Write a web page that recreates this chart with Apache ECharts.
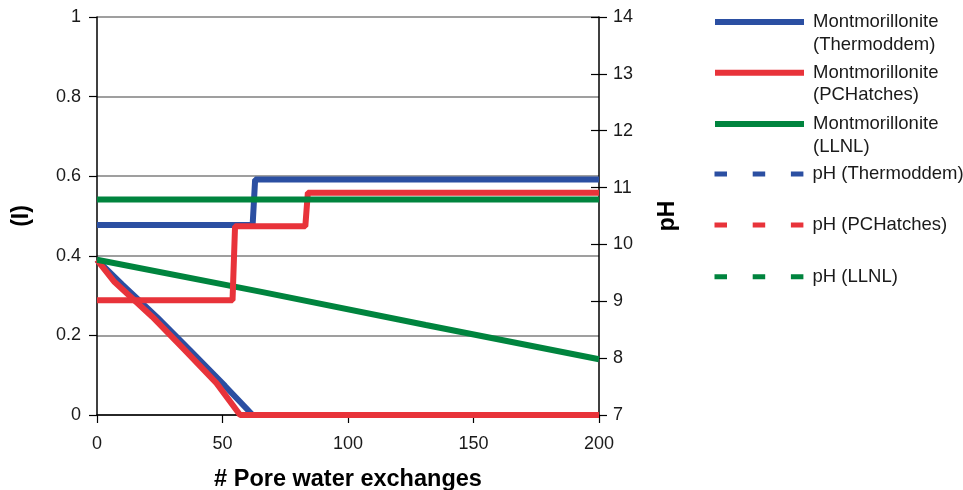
<!DOCTYPE html>
<html>
<head>
<meta charset="utf-8">
<script src="https://cdn.jsdelivr.net/npm/echarts@6/dist/echarts.min.js"></script>
<style>
  html, body { margin: 0; padding: 0; background: #ffffff; }
  #chart { width: 963px; height: 490px; }
</style>
</head>
<body>
<div id="chart"></div>
<script>
// Ionic strength (I) against number of pore water exchanges, [exchanges, I]
const ionicThermoddem = [[0, 0.39], [10, 0.328], [24, 0.245], [37, 0.163], [51, 0.073], [62, 0], [200, 0]];
const ionicPCHatches  = [[0, 0.39], [7, 0.334], [22, 0.247], [35, 0.163], [47.6, 0.08], [57, 0], [200, 0]];
const ionicLLNL       = [[0, 0.39], [65, 0.31], [131, 0.226], [200, 0.14]];

// pH against number of pore water exchanges, [exchanges, pH]
const phThermoddem = [[0, 10.34], [62, 10.34], [63, 11.14], [200, 11.14]];
const phPCHatches  = [[0, 9.02], [54, 9.02], [55, 10.32], [83, 10.32], [84, 10.91], [200, 10.91]];
const phLLNL       = [[0, 10.79], [200, 10.79]];

const seriesNames = [
  'Montmorillonite\n(Thermoddem)',
  'Montmorillonite\n(PCHatches)',
  'Montmorillonite\n(LLNL)',
  'pH (Thermoddem)',
  'pH (PCHatches)',
  'pH (LLNL)'
];

const BLUE = '#2B4FA2';
const RED = '#E8333A';
const GREEN = '#00843E';
const FONT = '"Liberation Sans", Arial, sans-serif';

const chart = echarts.init(document.getElementById('chart'), null, { renderer: 'canvas' });

function lineSeries(name, data, color, yAxisIndex) {
  return {
    name: name,
    type: 'line',
    data: data,
    yAxisIndex: yAxisIndex,
    symbol: 'none',
    clip: false,
    animation: false,
    lineStyle: { color: color, width: 6 },
    itemStyle: { color: color }
  };
}

// One legend per entry so every entry sits on its own row; the sample line
// lines up with the first text line of the two-line entries.
const legendRows = [22, 72.7, 124, 174, 225, 276.7];
const LINE_H = 22.5;
const legends = seriesNames.map(function (name, i) {
  const twoLines = name.indexOf('\n') >= 0;
  const dashed = i >= 3;
  return {
    orient: 'vertical',
    left: 712,
    top: twoLines ? legendRows[i] - 1.5 * LINE_H : legendRows[i] - 0.5 * LINE_H,
    padding: 0,
    itemWidth: 89,
    itemHeight: 14,
    selectedMode: false,
    formatter: twoLines ? '\n{name}' : '{name}',
    textStyle: {
      fontFamily: FONT,
      fontSize: 18.5,
      color: '#1a1a1a',
      lineHeight: LINE_H,
      padding: [0, 0, 0, 4]
    },
    itemStyle: { color: 'rgba(0,0,0,0)', borderWidth: 0, opacity: 0 },
    lineStyle: { width: dashed ? 5 : 6, type: dashed ? [12.5, 25.7] : 'solid', opacity: 1 },
    data: [name]
  };
});

chart.setOption({
  backgroundColor: '#ffffff',
  animation: false,
  legend: legends,
  grid: { left: 97, right: 364, top: 17, bottom: 75, containLabel: false, outerBoundsMode: 'none' },
  xAxis: {
    type: 'value',
    min: 0,
    max: 200,
    interval: 50,
    name: '# Pore water exchanges',
    nameLocation: 'middle',
    nameGap: 53,
    nameTextStyle: { fontFamily: FONT, fontSize: 23.5, fontWeight: 'bold', color: '#000' },
    axisLine: { show: true, lineStyle: { color: '#000', width: 1.5 } },
    axisTick: { show: true, inside: false, length: 8, lineStyle: { color: '#000', width: 1.2 } },
    axisLabel: { margin: 20, fontFamily: FONT, fontSize: 18, color: '#1a1a1a' },
    splitLine: { show: false }
  },
  yAxis: [
    {
      type: 'value',
      position: 'left',
      min: 0,
      max: 1,
      interval: 0.2,
      name: '(I)',
      nameLocation: 'middle',
      nameRotate: 90,
      nameGap: 64,
      nameTextStyle: { fontFamily: FONT, fontSize: 23, fontWeight: 'bold', color: '#000' },
      axisLine: { show: true, lineStyle: { color: '#000', width: 1.5 } },
      axisTick: { show: true, inside: false, length: 8, lineStyle: { color: '#000', width: 1.2 } },
      axisLabel: { margin: 16, fontFamily: FONT, fontSize: 18, color: '#1a1a1a' },
      splitLine: { show: true, lineStyle: { color: '#7f7f7f', width: 1.5 } }
    },
    {
      type: 'value',
      position: 'right',
      min: 7,
      max: 14,
      interval: 1,
      name: 'pH',
      nameLocation: 'middle',
      nameRotate: 90,
      nameGap: 57,
      nameTextStyle: { fontFamily: FONT, fontSize: 23, fontWeight: 'bold', color: '#000' },
      axisLine: { show: true, lineStyle: { color: '#000', width: 1.5 } },
      axisTick: { show: true, inside: false, length: 8, lineStyle: { color: '#000', width: 1.2 } },
      axisLabel: { margin: 14, fontFamily: FONT, fontSize: 18, color: '#1a1a1a' },
      splitLine: { show: false }
    },
    {
      // inner half of the crossing pH ticks
      type: 'value',
      position: 'right',
      min: 7,
      max: 14,
      interval: 1,
      axisLine: { show: false },
      axisTick: { show: true, inside: true, length: 8, lineStyle: { color: '#000', width: 1.2 } },
      axisLabel: { show: false },
      splitLine: { show: false }
    }
  ],
  series: [
    lineSeries(seriesNames[0], ionicThermoddem, BLUE, 0),
    lineSeries(seriesNames[1], ionicPCHatches, RED, 0),
    lineSeries(seriesNames[2], ionicLLNL, GREEN, 0),
    lineSeries(seriesNames[3], phThermoddem, BLUE, 1),
    lineSeries(seriesNames[4], phPCHatches, RED, 1),
    lineSeries(seriesNames[5], phLLNL, GREEN, 1)
  ]
});
</script>
</body>
</html>
